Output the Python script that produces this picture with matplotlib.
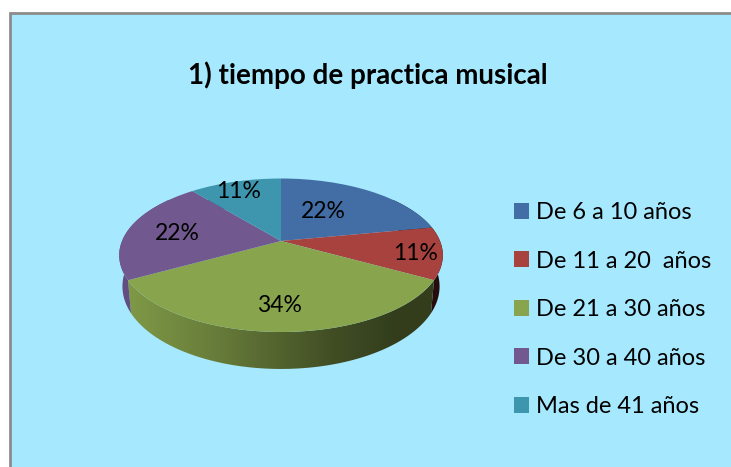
import numpy as np
from matplotlib import pyplot as plt
from matplotlib.colors import to_rgb
from matplotlib.patches import Polygon, Rectangle
from matplotlib.transforms import Transform

plt.rcParams['font.family'] = ['Lato', 'DejaVu Sans']

categories = ['De 6 a 10 años', 'De 11 a 20  años', 'De 21 a 30 años', 'De 30 a 40 años', 'Mas de 41 años']
values = [22, 11, 34, 22, 11]
title = '1) tiempo de practica musical'

colors = ['#426EA5', '#A8423F', '#88A54E', '#71588F', '#3D96AE']
side_colors = ['#426EA5', '#6A2320', '#8FAC50', '#6F5890', '#3D96AE']

# pie geometry in pixels, fitted on the picture
CX, CY = 281, 241
RX, RY = 159, 74.1
TILT = 0.1857
DEPTH = 30.1
BOTTOM_SCALE = 0.98
LABEL_POS = [(323, 212), (416, 254), (279, 306), (177, 234), (239, 191)]


class Perspective(Transform):
    """Tilted disc: unit circle -> ellipse with the apex off centre."""
    input_dims = 2
    output_dims = 2

    def transform_non_affine(self, values):
        pts = np.asarray(values)
        w = 1 + TILT * pts[:, 1]
        return np.column_stack([CX + RX * pts[:, 0] / w, CY - RY * pts[:, 1] / w])


def rim(angles):
    # angles are clockwise from 12 o'clock, in degrees
    a = np.radians(angles)
    x, y = np.sin(a), np.cos(a)
    w = 1 + TILT * y
    return RX * x / w, CY - RY * y / w, DEPTH / w


fig = plt.figure(figsize=(7.31, 4.67), dpi=100)
fig.patch.set_facecolor('white')
ax = fig.add_axes([0, 0, 1, 1])

wedges, _, autotexts = ax.pie(values, colors=colors, startangle=90, counterclock=False,
                              radius=1, autopct='%1.0f%%', textprops={'fontsize': 16.5, 'color': 'black'})
persp = Perspective()
for w in wedges:
    w.set_transform(persp + ax.transData)
    w.set_zorder(3)
    w.set_linewidth(0)

ax.add_patch(Rectangle((9.5, 13), 730, 470, facecolor='#A6E9FE', edgecolor='#8C8C8C', linewidth=2, zorder=0))

# side wall of the pie: horizontal gradient clipped to each slice's wall
px = np.linspace(-RX * 1.02, RX * 1.02, 400)
light = np.interp(px / RX, [-1, -0.4, 0.3, 0.7, 1], [0.9, 0.72, 0.46, 0.36, 0.36])
start = 0.0
for val, col in zip(values, side_colors):
    stop = start + val * 3.6
    ang = np.linspace(start, stop, 80)
    x, y, d = rim(ang)
    top = np.column_stack([CX + x, y])
    bottom = np.column_stack([CX + x * BOTTOM_SCALE, y + d])
    wall = Polygon(np.vstack([top, bottom[::-1]]), closed=True, transform=ax.transData,
                   facecolor='none', edgecolor='none')
    ax.add_patch(wall)
    grad = np.clip(np.array(to_rgb(col))[None, None, :] * light[None, :, None], 0, 1)
    im = ax.imshow(grad, extent=(CX + px[0], CX + px[-1], 400, 200), aspect='auto',
                   interpolation='bilinear', zorder=2)
    im.set_clip_path(wall)
    start = stop

ax.set_aspect('auto')
ax.set_xlim(0, 731)
ax.set_ylim(467, 0)
ax.set_axis_off()

for t, pos in zip(autotexts, LABEL_POS):
    t.set_position(pos)
    t.set_transform(ax.transData)
    t.set_zorder(4)
    t.set_ha('center')
    t.set_va('center')

ax.text(368, 75, title, fontsize=20, fontweight='bold', ha='center', va='center', zorder=4)

leg = ax.legend(wedges, categories, loc='upper left', bbox_to_anchor=(514 / 731, 1 - 202 / 467),
                frameon=False, fontsize=17, handlelength=0.64, handleheight=0.64,
                handletextpad=0.3, labelspacing=1.165, borderpad=0, borderaxespad=0)
leg.set_zorder(5)

fig.savefig('out.png', dpi=100)
